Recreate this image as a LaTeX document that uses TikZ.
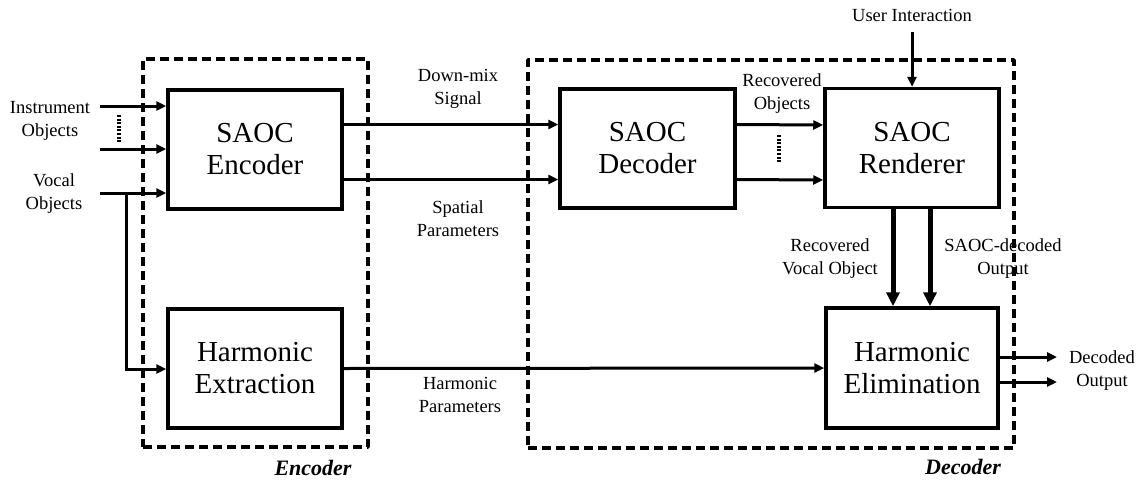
\documentclass[tikz,border=0pt]{standalone}
\usepackage{fontspec}
\setmainfont{Liberation Serif}
\usetikzlibrary{arrows.meta}
\begin{document}
\begin{tikzpicture}[x=1pt,y=-1pt,
  blockbox/.style={draw,line width=3.5pt,minimum width=174pt,minimum height=119pt,inner sep=0pt,align=center,font=\fontsize{29}{32}\selectfont},
  groupbox/.style={draw,line width=3.5pt,dash pattern=on 9pt off 5pt,line join=round,inner sep=0pt},
  lbl/.style={align=center,inner sep=0pt,font=\fontsize{18.5}{23}\selectfont},
  grouplbl/.style={inner sep=0pt,font=\fontsize{22}{26}\selectfont\bfseries\itshape},
  arr/.style={line width=3pt,-{Triangle[length=10pt,width=9pt]}},
  thickarr/.style={line width=5pt,-{Triangle[length=14pt,width=13pt]}},
  dots/.style={line width=3.5pt,dash pattern=on 2pt off 1.6pt}
]
\useasboundingbox (0,0) rectangle (1144,480);

% labels
\node[lbl] (linst) at (50,121) {Instrument\\Objects};
\node[lbl] (lvoc) at (54,193.5) {Vocal\\Objects};
\node[lbl] (ldmx) at (458,88.5) {Down-mix\\Signal};
\node[lbl] (lspat) at (458,218.5) {Spatial\\Parameters};
\node[lbl] (lrec) at (782,93.5) {Recovered\\Objects};
\node[lbl] (lrecv) at (830,259) {Recovered\\Vocal Object};
\node[lbl] (lsdec) at (1003,259) {SAOC-decoded\\Output};
\node[lbl] (ldec) at (1102,371) {Decoded\\Output};
\node[lbl] (lharm) at (460,394.5) {Harmonic\\Parameters};
\node[lbl] (luser) at (912,15) {User Interaction};
\node[grouplbl] (lenc) at (313,468) {Encoder};
\node[grouplbl] (ldecg) at (963,467) {Decoder};

% group frames
\node[groupbox,minimum width=225pt,minimum height=388pt] (encgrp) at (255.5,253) {};
\node[groupbox,minimum width=486pt,minimum height=388pt] (decgrp) at (771,254) {};

% blocks
\node[blockbox] (enc) at (255,149.5) {SAOC\\Encoder};
\node[blockbox] (hext) at (255,368.5) {Harmonic\\Extraction};
\node[blockbox,minimum width=175pt] (dec) at (647.5,148.5) {SAOC\\Decoder};
\node[blockbox] (ren) at (912,148) {SAOC\\Renderer};
\node[blockbox,minimum width=172pt,minimum height=120pt] (helim) at (912,368) {Harmonic\\Elimination};

% free-end coordinates
\coordinate (i1) at (100,106);
\coordinate (i2) at (100,149);
\coordinate (i3) at (100,193);
\coordinate (vb) at (126,193);
\coordinate (vc) at (126,369);
\coordinate (u0) at (912,32);
\coordinate (o1) at (1057,357);
\coordinate (o2) at (1057,382);
\coordinate (d1a) at (119,115);
\coordinate (d1b) at (119,143);
\coordinate (d2a) at (779,135);
\coordinate (d2b) at (779,163);

% connectors
\draw[arr] (i1) -- (enc.west |- i1);
\draw[arr] (i2) -- (enc.west |- i2);
\draw[arr] (i3) -- (enc.west |- i3);
\draw[arr] (vb) -- (vc) -- (hext.west |- vc);
\draw[dots] (d1a) -- (d1b);

\draw[arr] ([yshift=25pt]enc.east) -- ([yshift=24pt]dec.west);
\draw[arr] ([yshift=-30pt]enc.east) -- ([yshift=-31pt]dec.west);
\draw[arr] ([yshift=24pt]dec.east) -- ([yshift=23pt]ren.west);
\draw[arr] ([yshift=-31pt]dec.east) -- ([yshift=-32pt]ren.west);
\draw[dots] (d2a) -- (d2b);

\draw[arr] (u0) -- (ren.north);
\draw[thickarr] ([xshift=-19pt]ren.south) -- ([xshift=-19pt]helim.north);
\draw[thickarr] ([xshift=18pt]ren.south) -- ([xshift=18pt]helim.north);

\draw[arr] (hext.east) -- (helim.west);
\draw[arr] (helim.east |- o1) -- (o1);
\draw[arr] (helim.east |- o2) -- (o2);
\end{tikzpicture}
\end{document}
